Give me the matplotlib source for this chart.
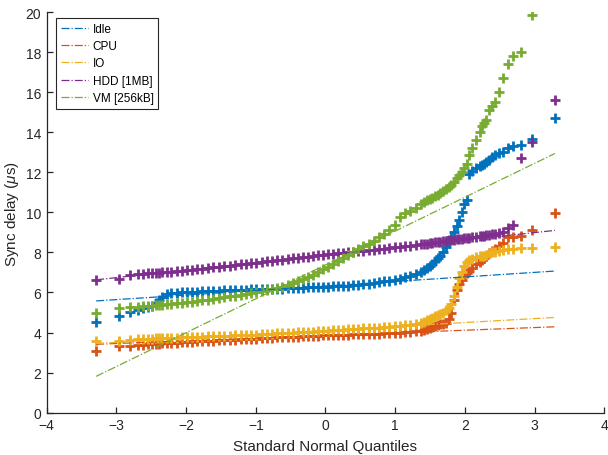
"""Normal QQ plot of sync delay under different load scenarios."""
from statistics import NormalDist

import matplotlib
matplotlib.use("Agg")
import matplotlib.pyplot as plt
import numpy as np

plt.rcParams["font.family"] = ["Liberation Sans", "DejaVu Sans"]
plt.rcParams["mathtext.fontset"] = "custom"
plt.rcParams["mathtext.it"] = "Liberation Sans:italic"

# sample size per scenario and the order statistics
N_SAMPLES = 1000
RANKS = [1, 2, 3, 4, 5, 6, 7, 8, 9, 10,
         12, 14, 17, 20, 24, 28, 33, 39, 46, 54, 63, 73, 85, 98, 112, 127,
         143, 161, 180, 200, 222, 245, 269, 294, 320, 347, 375, 403, 431,
         460, 489,
         512, 541, 570, 598, 626, 654, 681, 707, 732, 756, 779, 801, 821,
         840, 858, 874, 889, 903, 916,
         922, 928, 933, 938, 943, 947, 951, 955, 959, 962, 965, 968, 971,
         973, 975, 977, 979, 981, 983, 985, 987, 988, 989, 990, 991, 992,
         993, 994, 995, 996, 997, 998, 999, 1000]

LABELS = ["Idle", "CPU", "IO", "HDD [1MB]", "VM [256kB]"]
COLORS = ["#0072BD", "#D95319", "#EDB120", "#7E2F8E", "#77AC30"]

# sorted sync delays (us) at RANKS
IDLE = [4.51, 4.84, 5.04, 5.14, 5.21, 5.28, 5.34, 5.45, 5.62, 5.75,
        5.92, 5.96, 5.98, 6.00, 6.01, 6.03, 6.04, 6.05, 6.07, 6.08, 6.09,
        6.10, 6.11, 6.12, 6.13, 6.14, 6.15, 6.15, 6.16, 6.16, 6.16, 6.17,
        6.18, 6.20, 6.22, 6.23, 6.24, 6.25, 6.26, 6.27, 6.28,
        6.29, 6.30, 6.31, 6.32, 6.34, 6.36, 6.38, 6.41, 6.44, 6.49, 6.52,
        6.55, 6.59, 6.63, 6.68, 6.75, 6.83, 6.92, 7.02,
        7.10, 7.20, 7.30, 7.40, 7.55, 7.70, 7.80, 8.00, 8.25, 8.50, 8.75,
        9.00, 9.30, 9.60, 10.0, 10.4, 10.6, 11.9, 12.05, 12.2, 12.3, 12.35,
        12.4, 12.5, 12.6, 12.75, 12.85, 12.95, 13.0, 13.2, 13.3, 13.37,
        13.67, 14.7]
CPU = [3.10, 3.34, 3.34, 3.38, 3.40, 3.42, 3.43, 3.44, 3.45, 3.46,
       3.47, 3.48, 3.50, 3.51, 3.53, 3.54, 3.56, 3.57, 3.58, 3.60, 3.61,
       3.62, 3.64, 3.65, 3.66, 3.67, 3.69, 3.70, 3.71, 3.72, 3.74, 3.755,
       3.77, 3.78, 3.79, 3.80, 3.81, 3.82, 3.83, 3.84, 3.86,
       3.87, 3.875, 3.88, 3.89, 3.90, 3.905, 3.91, 3.92, 3.93, 3.94, 3.95,
       3.96, 3.97, 3.98, 4.00, 4.02, 4.04, 4.07, 4.10,
       4.14, 4.18, 4.22, 4.28, 4.33, 4.38, 4.42, 4.45, 4.50, 4.70, 5.00,
       5.60, 6.10, 6.40, 6.60, 6.80, 6.95, 7.05, 7.20, 7.40, 7.50, 7.60,
       7.70, 7.80, 7.95, 8.05, 8.15, 8.30, 8.46, 8.76, 8.76, 8.84, 9.12,
       9.96]
IO = [3.59, 3.59, 3.64, 3.67, 3.68, 3.69, 3.70, 3.71, 3.72, 3.72,
      3.73, 3.74, 3.75, 3.76, 3.77, 3.78, 3.79, 3.80, 3.81, 3.82, 3.83,
      3.84, 3.85, 3.86, 3.87, 3.88, 3.89, 3.90, 3.91, 3.92, 3.95, 3.965,
      3.98, 3.99, 4.00, 4.01, 4.02, 4.03, 4.05, 4.06, 4.08,
      4.10, 4.11, 4.13, 4.14, 4.16, 4.18, 4.19, 4.21, 4.22, 4.24, 4.25,
      4.27, 4.29, 4.31, 4.33, 4.36, 4.39, 4.43, 4.50,
      4.55, 4.62, 4.68, 4.75, 4.82, 4.86, 4.92, 5.00, 5.10, 5.20, 5.40,
      5.80, 6.25, 6.70, 7.00, 7.30, 7.50, 7.60, 7.68, 7.75, 7.80, 7.82,
      7.84, 7.88, 7.95, 8.00, 8.04, 8.08, 8.14, 8.19, 8.19, 8.24, 8.24,
      8.29]
HDD = [6.62, 6.67, 6.89, 6.92, 6.94, 6.96, 6.97, 6.98, 6.99, 7.00,
       7.02, 7.03, 7.05, 7.07, 7.10, 7.13, 7.16, 7.19, 7.22, 7.25, 7.28,
       7.31, 7.34, 7.37, 7.40, 7.43, 7.46, 7.49, 7.52, 7.55, 7.58, 7.61,
       7.64, 7.67, 7.70, 7.73, 7.76, 7.79, 7.82, 7.85, 7.88,
       7.90, 7.93, 7.96, 7.98, 8.01, 8.03, 8.06, 8.08, 8.10, 8.13, 8.16,
       8.19, 8.22, 8.25, 8.28, 8.31, 8.34, 8.37, 8.40,
       8.42, 8.44, 8.46, 8.48, 8.50, 8.52, 8.54, 8.56, 8.58, 8.60, 8.62,
       8.64, 8.66, 8.67, 8.69, 8.70, 8.72, 8.74, 8.76, 8.78, 8.80, 8.82,
       8.84, 8.86, 8.88, 8.90, 8.93, 8.96, 9.00, 9.22, 9.39, 12.7, 13.5,
       15.64]
VM = [4.97, 5.22, 5.25, 5.28, 5.30, 5.31, 5.33, 5.35, 5.37, 5.38,
      5.40, 5.42, 5.45, 5.47, 5.50, 5.53, 5.56, 5.60, 5.64, 5.68, 5.72,
      5.76, 5.80, 5.84, 5.88, 5.92, 5.96, 6.00, 6.05, 6.10, 6.16, 6.22,
      6.29, 6.37, 6.46, 6.56, 6.66, 6.77, 6.89, 7.02, 7.15,
      7.28, 7.42, 7.58, 7.74, 7.88, 8.03, 8.18, 8.32, 8.42, 8.55, 8.76,
      8.93, 9.12, 9.38, 9.75, 9.95, 10.08, 10.22, 10.42,
      10.52, 10.60, 10.66, 10.72, 10.80, 10.87, 10.95, 11.05, 11.15, 11.25,
      11.38, 11.50, 11.70, 11.85, 12.00, 12.20, 12.40, 12.85, 13.20, 13.60,
      14.00, 14.30, 14.45, 14.60, 15.10, 15.30, 15.50, 16.00, 16.70, 17.40,
      17.80, 18.00, 19.85, 21.50]

SERIES = [IDLE, CPU, IO, HDD, VM]

AX_COLOR = "#262626"


def plotting_positions() -> np.ndarray:
    return (np.array(RANKS) - 0.5) / N_SAMPLES


def normal_quantiles() -> np.ndarray:
    nd = NormalDist()
    return np.array([nd.inv_cdf(p) for p in plotting_positions()])


def quartile_line(x: np.ndarray, y: list) -> tuple:
    """Line through the 1st and 3rd quartiles, extended over the data range."""
    q1, q3 = np.interp([0.25, 0.75], plotting_positions(), y)
    z1, z3 = NormalDist().inv_cdf(0.25), NormalDist().inv_cdf(0.75)
    slope = (q3 - q1) / (z3 - z1)
    xs = np.array([x.min(), x.max()])
    return xs, q1 + slope * (xs - z1)


def main() -> None:
    x = normal_quantiles()

    fig = plt.figure(figsize=(6.08, 4.56), dpi=100)
    ax = fig.add_axes([0.0768, 0.0932, 0.9171, 0.8772])

    handles = []
    for y, color in zip(SERIES, COLORS):
        ax.plot(x, y, "+", color=color, ms=6.5, mew=2.0, zorder=2)
    for y, color, label in zip(SERIES, COLORS, LABELS):
        xs, ys = quartile_line(x, y)
        (h,) = ax.plot(xs, ys, "-.", color=color, lw=0.9, label=label,
                       zorder=3)
        handles.append(h)

    ax.set_xlim(-4, 4)
    ax.set_ylim(0, 20)
    ax.set_xticks(np.arange(-4, 5, 1))
    ax.set_yticks(np.arange(0, 21, 2))
    for side in ("top", "right"):
        ax.spines[side].set_visible(False)
    for side in ("left", "bottom"):
        ax.spines[side].set_color(AX_COLOR)
        ax.spines[side].set_linewidth(0.9)
    ax.tick_params(direction="in", length=4, width=0.9, colors=AX_COLOR,
                   labelsize=10, pad=4)

    ax.set_xlabel("Standard Normal Quantiles", fontsize=11, color=AX_COLOR,
                  labelpad=5)
    ax.set_ylabel(r"Sync delay ($\mu$s)", fontsize=11, color=AX_COLOR,
                  labelpad=3)

    leg = ax.legend(handles=handles, loc="upper left",
                    bbox_to_anchor=(0.017, 0.986), borderaxespad=0,
                    fontsize=8.5, fancybox=False, framealpha=1,
                    edgecolor=AX_COLOR, handlelength=2.3, handletextpad=0.4,
                    labelspacing=0.45, borderpad=0.4)
    leg.get_frame().set_linewidth(0.8)

    fig.savefig("out.png", dpi=100)
    plt.close(fig)


if __name__ == "__main__":
    main()
